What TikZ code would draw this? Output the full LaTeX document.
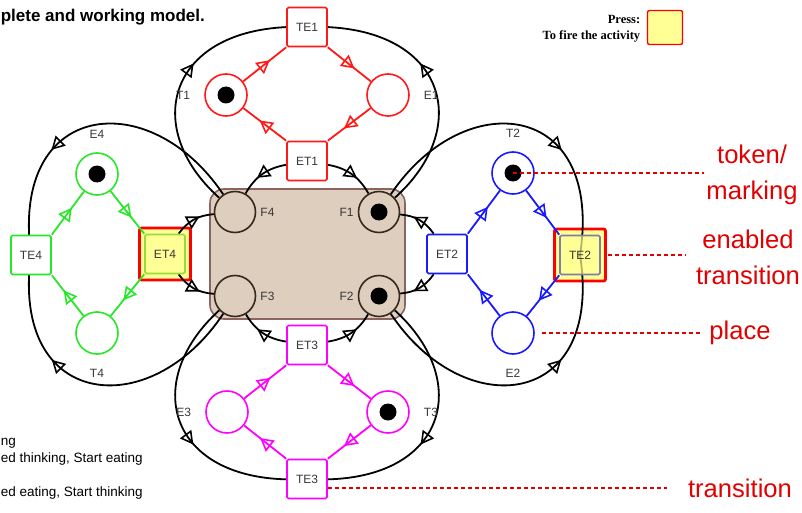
\documentclass[tikz,border=0pt]{standalone}
\usepackage{fontspec}
\setmainfont{Liberation Sans}
\newfontfamily\pressfont{Liberation Serif}
\usepackage{xcolor}
\usetikzlibrary{arrows,arrows.meta,automata,calc,positioning}
\usetikzlibrary{backgrounds,decorations.markings}

\definecolor{petred}{RGB}{255,25,25}
\definecolor{petgreen}{RGB}{40,230,40}
\definecolor{petblue}{RGB}{25,25,255}
\definecolor{petpink}{RGB}{255,0,255}
\definecolor{tablefill}{RGB}{222,206,190}
\definecolor{tableedge}{RGB}{140,100,95}
\definecolor{forkedge}{RGB}{55,40,30}
\definecolor{hilite}{RGB}{255,255,150}
\definecolor{annored}{RGB}{225,0,0}
\definecolor{labgray}{RGB}{55,55,55}

% arcs of the net carry an open triangle along the way
\tikzset{
  flow/.style={draw, line width=1.8pt, postaction={decorate},
    decoration={markings, mark=at position #1 with
      {\arrow[xshift=6.5pt]{Triangle[open,length=13pt,width=14pt,line width=1.6pt]}}}},
  flow/.default=0.5
}

\begin{document}
\begin{tikzpicture}[x=1pt,y=-1pt,node distance=144pt,line width=1.6pt,
                    label distance=10pt]
  \tikzstyle{every state}=[fill=white, draw=black, minimum size=42pt, inner sep=0pt, line width=1.6pt]
  \tikzstyle{every label}=[font=\fontsize{12}{14}\selectfont, text=labgray]
  \tikzstyle{trans}=[rectangle, draw, fill=white, minimum width=40pt, minimum height=39pt,
                     inner sep=0pt, rounded corners=1.5pt, line width=1.6pt,
                     font=\fontsize{12}{14}\selectfont, text=labgray]
  \tikzstyle{marked}=[path picture={\fill[black] (path picture bounding box.center) circle (8.5pt);}]
  \tikzstyle{fork}=[state, draw=forkedge, fill=tablefill, minimum size=41pt]
  \tikzstyle{enabled}=[rectangle, draw=red, fill=hilite, line width=2.8pt, minimum width=51pt,
                       minimum height=52pt, rounded corners=2pt]
  \tikzstyle{note}=[text=annored, font=\fontsize{25.6}{36}\selectfont, align=center, inner sep=2pt]
  \tikzstyle{annot}=[draw=annored, line width=1.2pt, line cap=butt, dash pattern=on 4pt off 3pt]

  \useasboundingbox (0,0) rectangle (802,513);

  % forks lying on the table
  \node[fork] (F4) at (235,212) [label={[label distance=0pt]right:F4}] {};
  \node[fork, marked] (F1) [right of=F4, label={[label distance=0pt]left:F1}] {};
  \node[fork] (F3) [below of=F4, node distance=84pt, label={[label distance=0pt]right:F3}] {};
  \node[fork, marked] (F2) [right of=F3, label={[label distance=0pt]left:F2}] {};

  % philosopher 1
  \node[trans, draw=petred] (TE1) at (307,27) {TE1};
  \node[trans, draw=petred] (ET1) at (307,161) {ET1};
  \node[state, draw=petred, marked, label=left:T1] (T1) at (226,95) {};
  \node[state, draw=petred, label=right:E1] (E1) at (388,95) {};

  % philosopher 4
  \node[trans, draw=petgreen] (TE4) at (31,255) {TE4};
  \node[trans, draw={rgb,255:red,150;green,220;blue,60}, fill=hilite] (ET4) at (165,254) {ET4};
  \node[state, draw=petgreen, marked, label=above:E4] (E4) at (97,174) {};
  \node[state, draw=petgreen, label=below:T4] (T4) at (97,333) {};

  % philosopher 2
  \node[trans, draw=petblue] (ET2) at (447,254) {ET2};
  \node[trans, draw={rgb,255:red,125;green,125;blue,170}, fill=hilite, fill opacity=0.7,
        text opacity=1] (TE2) at (580,255) {TE2};
  \node[state, draw=petblue, marked, label=above:T2] (T2) at (513,173) {};
  \node[state, draw=petblue, label=below:E2] (E2) at (513,333) {};

  % philosopher 3
  \node[trans, draw=petpink] (ET3) at (307,345) {ET3};
  \node[trans, draw=petpink] (TE3) at (307,479) {TE3};
  \node[state, draw=petpink, label=left:E3] (E3) at (227,412) {};
  \node[state, draw=petpink, marked, label=right:T3] (T3) at (388,412) {};

  \begin{scope}[on background layer]
    % the table
    \draw[fill=tablefill, draw=tableedge, line width=1.6pt, rounded corners=14pt] (210,189) rectangle (405,319);
    \node[enabled] (ET4on) at (ET4) {};
    \node[enabled] (TE2on) at (TE2) {};

    % forks taken up when eating starts
    \draw[flow=0.53] (F4) .. controls (138,125) and (170,22) .. (TE1.center);
    \draw[flow=0.53] (F1) .. controls (476,125) and (444,22) .. (TE1.center);
    \draw[flow=0.63] (F4) .. controls (150,85) and (10,100) .. (TE4.center);
    \draw[flow=0.63] (F3) .. controls (150,424) and (10,409) .. (TE4.center);
    \draw[flow=0.63] (F1) .. controls (464,85) and (604,100) .. (TE2.center);
    \draw[flow=0.63] (F2) .. controls (464,424) and (604,409) .. (TE2.center);
    \draw[flow=0.53] (F3) .. controls (138,384) and (170,487) .. (TE3.center);
    \draw[flow=0.53] (F2) .. controls (476,384) and (444,487) .. (TE3.center);

    % forks put back
    \draw[flow] (ET1) to[bend right=25] (F4);
    \draw[flow] (ET1) to[bend left=25] (F1);
    \draw[flow] (ET4) to[bend left=25] (F4);
    \draw[flow] (ET4) to[bend right=25] (F3);
    \draw[flow] (ET2) to[bend right=25] (F1);
    \draw[flow] (ET2) to[bend left=25] (F2);
    \draw[flow] (ET3) to[bend left=25] (F3);
    \draw[flow] (ET3) to[bend right=25] (F2);

    % thinking / eating cycles
    \draw[flow, draw=petred] (T1) -- (TE1.south west);
    \draw[flow, draw=petred] (TE1.south east) -- (E1);
    \draw[flow, draw=petred] (E1) -- (ET1.north east);
    \draw[flow, draw=petred] (ET1.north west) -- (T1);

    \draw[flow, draw=petgreen] (TE4.north east) -- (E4);
    \draw[flow, draw=petgreen] (E4) -- (ET4.north west);
    \draw[flow, draw=petgreen] (ET4.south west) -- (T4);
    \draw[flow, draw=petgreen] (T4) -- (TE4.south east);

    \draw[flow, draw=petblue] (ET2.north east) -- (T2);
    \draw[flow, draw=petblue] (T2) -- (TE2.north west);
    \draw[flow, draw=petblue] (TE2.south west) -- (E2);
    \draw[flow, draw=petblue] (E2) -- (ET2.south east);

    \draw[flow, draw=petpink] (TE3.north west) -- (E3);
    \draw[flow, draw=petpink] (E3) -- (ET3.south west);
    \draw[flow, draw=petpink] (ET3.south east) -- (T3);
    \draw[flow, draw=petpink] (T3) -- (TE3.north east);
  \end{scope}

  % header and key
  \node[anchor=base west, inner sep=0pt, font=\bfseries\fontsize{17}{20}\selectfont] (title) at (0,22) {plete and working model.};
  \node[anchor=base east, inner sep=0pt, font=\pressfont\bfseries\fontsize{12.5}{15}\selectfont] (press) at (641,24) {Press:};
  \node[anchor=base east, inner sep=0pt, font=\pressfont\bfseries\fontsize{12.5}{15}\selectfont] (fire) at (641,40) {To fire the activity};
  \node[draw=red, fill=hilite, minimum width=35pt, minimum height=34pt, rounded corners=2pt,
        line width=1.4pt] (firebtn) at (665,27.5) {};

  \node[anchor=base west, inner sep=0pt, font=\fontsize{13.5}{16}\selectfont] (leg1) at (0,445) {ng};
  \node[anchor=base west, inner sep=0pt, font=\fontsize{13.5}{16}\selectfont] (leg2) at (0,462) {ed thinking, Start eating};
  \node[anchor=base west, inner sep=0pt, font=\fontsize{13.5}{16}\selectfont] (leg3) at (0,496) {ed eating, Start thinking};

  % callouts
  \node[note] (tok) at (752,175) {token/\\marking};
  \node[note] (ena) at (748,257) {enabled\\transition};
  \node[note] (plc) at (740,333) {place};
  \node[note] (trn) at (740,488) {transition};
  \draw[annot] (T2.center) -- (tok.west |- T2.center);
  \draw[annot, shorten <=7pt, shorten >=7pt] (TE2.east) -- (ena.west |- TE2.east);
  \draw[annot, shorten <=7pt, shorten >=5pt] (E2.east) -- (plc.west |- E2.east);
  \draw[annot, shorten >=18pt] (TE3.east |- trn.west) -- (trn.west);
\end{tikzpicture}
\end{document}
